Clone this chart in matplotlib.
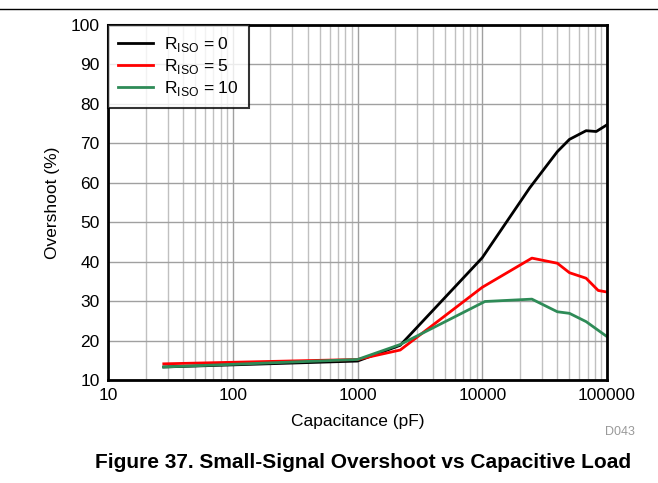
import matplotlib
matplotlib.use("Agg")
import matplotlib.pyplot as plt
from matplotlib.lines import Line2D
from matplotlib.ticker import FixedLocator, NullFormatter

plt.rcParams["font.family"] = ["Liberation Sans", "DejaVu Sans"]
plt.rcParams["mathtext.fontset"] = "custom"
plt.rcParams["mathtext.rm"] = "Liberation Sans"

# Capacitive load (pF) and overshoot (%) per isolation resistor
cap_r0 = [28, 1000, 2200, 10000, 24000, 40000, 50000, 68000, 82000, 100000]
ovs_r0 = [13.3, 14.8, 18.8, 41.0, 58.7, 67.9, 71.0, 73.2, 73.0, 74.7]

cap_r5 = [28, 1000, 2200, 10000, 25000, 40000, 50000, 68000, 85000, 100000]
ovs_r5 = [14.1, 15.2, 17.6, 33.5, 40.9, 39.6, 37.2, 35.8, 32.7, 32.3]

cap_r10 = [28, 1000, 2200, 10500, 25000, 40000, 50000, 68000, 100000]
ovs_r10 = [13.3, 15.2, 19.0, 29.9, 30.5, 27.3, 26.9, 24.8, 21.0]

labels = [r"R$_{\mathrm{ISO}}$ = 0", r"R$_{\mathrm{ISO}}$ = 5", r"R$_{\mathrm{ISO}}$ = 10"]
colors = ["black", "#ff0000", "#2e8b57"]

fig = plt.figure(figsize=(6.58, 4.83), dpi=100)
ax = fig.add_axes([108 / 658, 1 - 380 / 483, 499 / 658, 355 / 483])

ax.plot(cap_r0, ovs_r0, color=colors[0], lw=2, label=labels[0])
ax.plot(cap_r5, ovs_r5, color=colors[1], lw=2, label=labels[1])
ax.plot(cap_r10, ovs_r10, color=colors[2], lw=2, label=labels[2])

ax.set_xscale("log")
ax.set_xlim(10, 100000)
ax.set_ylim(10, 100)
ax.set_yticks(range(10, 101, 10))
ax.set_xticks([10, 100, 1000, 10000, 100000])
ax.set_xticklabels(["10", "100", "1000", "10000", "100000"])
minors = [m * 10 ** d for d in range(1, 5) for m in range(2, 10)]
ax.xaxis.set_minor_locator(FixedLocator(minors))
ax.xaxis.set_minor_formatter(NullFormatter())

ax.grid(True, which="major", color="#a0a0a0", lw=1)
ax.grid(True, which="minor", axis="x", color="#c0c0c0", lw=1)
ax.set_axisbelow(True)
ax.tick_params(which="both", length=0, labelsize=12.5, pad=6)
for sp in ax.spines.values():
    sp.set_linewidth(2)

ax.set_xlabel("Capacitance (pF)", fontsize=12.5, labelpad=8)
ax.set_ylabel("Overshoot (%)", fontsize=12.5, labelpad=8)

leg = ax.legend(loc="upper left", fontsize=12.5, frameon=True, fancybox=False,
                edgecolor="black", handlelength=2.0, borderaxespad=0,
                labelspacing=0.15, borderpad=0.6, handletextpad=0.6)
leg.get_frame().set_linewidth(1.5)

fig.add_artist(Line2D([0, 1], [1 - 9 / 483, 1 - 9 / 483], color="black", lw=1))
fig.text(620 / 658, 1 - 432 / 483, "D043", color="#999999", fontsize=9,
         ha="center", va="center")
fig.text(363 / 658, 1 - 462 / 483,
         "Figure 37. Small-Signal Overshoot vs Capacitive Load",
         fontsize=15, fontweight="bold", ha="center", va="center")

fig.savefig("out.png", dpi=100)
